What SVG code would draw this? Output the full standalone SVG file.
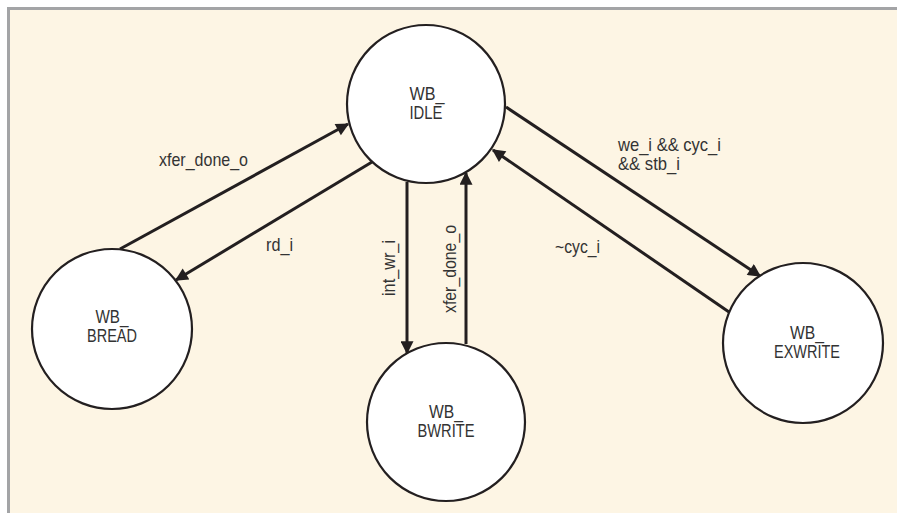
<svg xmlns="http://www.w3.org/2000/svg" width="897" height="513" viewBox="0 0 897 513">
<style>
.bg{fill:#fdf5e4}
.frame{stroke:#a3a4a6;stroke-width:3;fill:none}
.node{fill:#ffffff;stroke:#231f20;stroke-width:2.2}
.lbl{font-family:"Liberation Sans Narrow","Liberation Sans",Arial,sans-serif;font-size:18.5px;fill:#333333}
.nl{text-anchor:middle}
.edge{stroke:#231f20;stroke-width:3;fill:none;marker-end:url(#ah)}
</style>
<defs>
<marker id="ah" viewBox="0 0 10 10" refX="9" refY="5" markerUnits="userSpaceOnUse" markerWidth="16" markerHeight="13" orient="auto">
<path d="M0,0 L10,5 L0,10 Z" fill="#231f20"/>
</marker>
</defs>
<rect x="0" y="0" width="897" height="513" fill="#ffffff"/>
<rect class="bg" x="8" y="8" width="889" height="505"/>
<path class="frame" d="M8.5,513 L8.5,8.5 L897,8.5"/>
<g id="connectors">
<line class="edge" x1="120" y1="249" x2="348" y2="124"/>
<line class="edge" x1="372" y1="162" x2="176" y2="280"/>
<line class="edge" x1="407" y1="182" x2="407" y2="353"/>
<line class="edge" x1="466" y1="344" x2="466" y2="173"/>
<line class="edge" x1="506" y1="107" x2="760" y2="276"/>
<line class="edge" x1="729" y1="312" x2="493" y2="150"/>
<text class="lbl" x="159" y="166" textLength="89" lengthAdjust="spacingAndGlyphs">xfer_done_o</text>
<text class="lbl" x="266" y="251" textLength="27" lengthAdjust="spacingAndGlyphs">rd_i</text>
<text class="lbl" transform="translate(395,296) rotate(-90)" x="0" y="0" textLength="56" lengthAdjust="spacingAndGlyphs">int_wr_i</text>
<text class="lbl" transform="translate(456,313) rotate(-90)" x="0" y="0" textLength="88" lengthAdjust="spacingAndGlyphs">xfer_done_o</text>
<text class="lbl" x="618" y="151" textLength="103" lengthAdjust="spacingAndGlyphs">we_i &amp;&amp; cyc_i</text>
<text class="lbl" x="618" y="170" textLength="62" lengthAdjust="spacingAndGlyphs">&amp;&amp; stb_i</text>
<text class="lbl" x="555" y="253" textLength="45" lengthAdjust="spacingAndGlyphs">~cyc_i</text>
</g>
<g id="WB_IDLE">
<circle class="node" cx="426" cy="104" r="79"/>
<text class="lbl nl" x="427" y="100" textLength="35" lengthAdjust="spacingAndGlyphs">WB_</text>
<text class="lbl nl" x="426" y="119" textLength="33" lengthAdjust="spacingAndGlyphs">IDLE</text>
</g>
<g id="WB_BREAD">
<circle class="node" cx="112" cy="329" r="80"/>
<text class="lbl nl" x="112" y="323" textLength="33" lengthAdjust="spacingAndGlyphs">WB_</text>
<text class="lbl nl" x="112" y="342" textLength="50" lengthAdjust="spacingAndGlyphs">BREAD</text>
</g>
<g id="WB_BWRITE">
<circle class="node" cx="446" cy="422" r="79"/>
<text class="lbl nl" x="446" y="418" textLength="34" lengthAdjust="spacingAndGlyphs">WB_</text>
<text class="lbl nl" x="446" y="437" textLength="57" lengthAdjust="spacingAndGlyphs">BWRITE</text>
</g>
<g id="WB_EXWRITE">
<circle class="node" cx="803" cy="343" r="80"/>
<text class="lbl nl" x="807" y="339" textLength="34" lengthAdjust="spacingAndGlyphs">WB_</text>
<text class="lbl nl" x="807" y="358" textLength="66" lengthAdjust="spacingAndGlyphs">EXWRITE</text>
</g>
</svg>
